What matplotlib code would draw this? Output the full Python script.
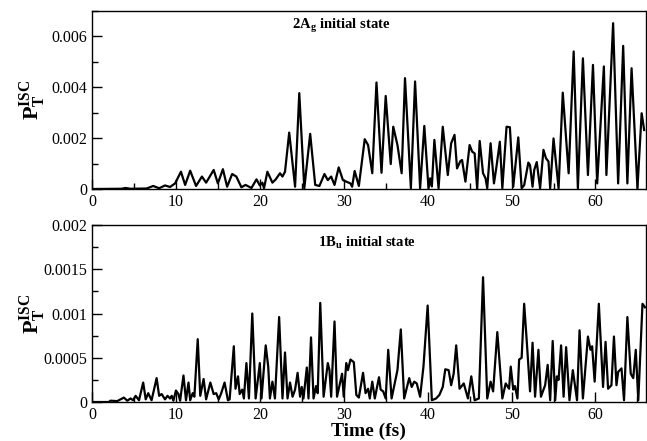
import matplotlib
matplotlib.use('Agg')
import matplotlib.pyplot as plt
from matplotlib.ticker import MultipleLocator, FixedLocator, FixedFormatter
import numpy as np

# 2Ag initial state (time in fs, P in units of 1e-3)
t_ag = [0, 3.5, 4.0, 4.6, 6.5, 7.3, 8.0, 8.7, 9.3, 9.9, 10.6, 11.1, 11.7, 12.4, 13.1, 13.6,
        14.5, 15.0, 15.6, 16.1, 16.7, 17.2, 17.8, 18.3, 19.0, 19.6, 20.0, 20.3, 20.5,
        20.9, 21.5, 21.9, 22.4, 22.7, 23.0, 23.5, 24.2, 24.7, 25.3, 26.0, 26.6, 27.1,
        27.7, 28.1, 28.5, 28.9, 29.4, 29.9, 30.3, 30.8, 31.0, 31.3, 31.8, 32.5, 32.9,
        33.4, 33.9, 34.5, 35.0, 35.6, 35.9, 36.4, 36.9, 37.3, 38.0, 38.5, 39.1, 39.6,
        40.1, 40.3, 40.5, 40.8, 41.3, 41.8, 42.4, 42.8, 43.2, 43.5, 43.9, 44.1, 44.5,
        45.0, 45.3, 45.6, 45.9, 46.2, 46.6, 46.9, 47.1, 47.5, 47.9, 48.2, 48.6, 48.9,
        49.4, 49.8, 50.2, 50.8, 51.2, 51.5, 52.0, 52.2, 52.5, 52.7, 53.0, 53.4, 53.8,
        54.1, 54.4, 54.6, 55.0, 55.6, 56.1, 56.8, 57.4, 57.9, 58.5, 59.1, 59.7, 60.2,
        60.7, 61.0, 61.3, 62.1, 62.7, 63.3, 63.8, 64.3, 65.0, 65.5, 65.8]
p_ag = [0, 0.01, 0.04, 0.01, 0.02, 0.12, 0.03, 0.14, 0.08, 0.22, 0.68, 0.16, 0.72, 0.12, 0.49, 0.25,
        0.75, 0.22, 0.78, 0.09, 0.59, 0.49, 0.07, 0.16, 0.04, 0.38, 0.14, 0.25, 0.03,
        0.68, 0.25, 0.38, 0.62, 0.49, 0.68, 2.22, 0.09, 3.77, 0.03, 2.17, 0.16, 0.12,
        0.59, 0.35, 0.49, 0.16, 0.85, 0.35, 0.29, 0.22, 0.09, 0.71, 0.12, 1.96, 1.73,
        0.62, 4.19, 0.64, 3.66, 0.98, 2.45, 1.73, 0.62, 4.36, 0.03, 4.23, 0.03, 2.48,
        0.03, 0.42, 0.1, 1.93, 0.03, 2.45, 0.55, 1.8, 2.13, 0.81, 1.1, 1.14, 0.29,
        1.73, 1.47, 1.4, 0.0, 1.89, 0.62, 0.42, 0.03, 1.8, 0.22, 0.88, 1.86, 0.03,
        2.45, 2.43, 0.09, 2.03, 0.03, 0.15, 1.04, 0.94, 0.09, 0.75, 1.06, 0.03, 1.54,
        1.21, 1.08, 0.03, 1.99, 0.03, 3.79, 0.62, 5.41, 0.03, 5.14, 0.55, 4.88, 0.22,
        3.11, 4.82, 0.55, 6.52, 0.22, 5.63, 0.22, 4.75, 0.03, 2.98, 2.32]

# 1Bu initial state (time in fs, P in units of 1e-3)
t_bu = [0, 2.0, 2.2, 3.0, 3.8, 4.2, 4.6, 4.9, 5.2, 5.6, 6.1, 6.4, 6.7, 7.1, 7.7, 8.0, 8.3,
        8.7, 9.0, 9.3, 9.5, 9.7, 10.0, 10.3, 10.5, 10.9, 11.2, 11.5, 11.7, 12.0, 12.2,
        12.6, 12.9, 13.3, 13.6, 14.1, 14.5, 14.8, 15.1, 15.4, 15.8, 16.2, 16.4, 16.9,
        17.1, 17.4, 17.6, 17.9, 18.1, 18.4, 18.7, 19.1, 19.5, 20.0, 20.2, 20.7, 21.0,
        21.2, 21.5, 21.8, 22.3, 22.7, 23.0, 23.3, 23.6, 23.9, 24.2, 24.5, 24.8, 25.0,
        25.2, 25.6, 25.8, 26.1, 26.4, 26.7, 26.9, 27.2, 27.6, 28.1, 28.3, 28.5, 28.9,
        29.2, 29.8, 30.0, 30.3, 30.5, 30.8, 31.2, 31.5, 31.8, 32.3, 32.6, 32.9, 33.1,
        33.4, 33.7, 34.2, 34.4, 34.7, 35.0, 35.3, 35.7, 36.4, 36.8, 37.2, 37.8, 38.1,
        38.4, 38.7, 39.1, 39.5, 40.0, 40.5, 41.0, 41.4, 41.8, 42.1, 42.5, 42.8, 43.1,
        43.4, 43.8, 44.3, 44.8, 45.2, 45.6, 46.1, 46.6, 47.1, 47.5, 47.8, 48.3, 48.9,
        49.3, 49.7, 49.9, 50.2, 50.4, 50.7, 50.9, 51.2, 51.5, 51.8, 52.2, 52.5, 52.8,
        53.2, 53.5, 54.0, 54.3, 54.6, 54.9, 55.2, 55.4, 55.6, 55.9, 56.2, 56.5, 56.9,
        57.3, 57.8, 58.1, 58.5, 59.1, 59.4, 59.6, 59.9, 60.4, 60.9, 61.2, 61.5, 61.9,
        62.2, 62.5, 62.7, 63.1, 63.4, 63.8, 64.2, 64.5, 64.8, 65.1, 65.6, 65.9]
p_bu = [0, 0.0, 0.015, 0.01, 0.05, 0.015, 0.04, 0.02, 0.07, 0.02, 0.22, 0.03, 0.1, 0.02, 0.27, 0.07, 0.09,
        0.03, 0.07, 0.04, 0.07, 0.015, 0.13, 0.09, 0.015, 0.3, 0.02, 0.22, 0.02, 0.1, 0.06,
        0.71, 0.07, 0.26, 0.03, 0.22, 0.09, 0.1, 0.03, 0.1, 0.22, 0.02, 0.03, 0.63,
        0.15, 0.29, 0.09, 0.14, 0.04, 0.44, 0.04, 1.0, 0.04, 0.44, 0.04, 0.64, 0.4,
        0.04, 0.23, 0.04, 0.96, 0.04, 0.56, 0.04, 0.22, 0.06, 0.14, 0.33, 0.06, 0.17,
        0.04, 0.39, 0.04, 0.73, 0.04, 0.18, 0.1, 1.12, 0.06, 0.44, 0.36, 0.06, 0.91,
        0.06, 0.32, 0.06, 0.44, 0.36, 0.48, 0.45, 0.08, 0.05, 0.33, 0.1, 0.15, 0.04,
        0.23, 0.04, 0.28, 0.14, 0.12, 0.04, 0.59, 0.04, 0.36, 0.82, 0.04, 0.27, 0.17,
        0.23, 0.21, 0.06, 0.4, 1.09, 0.02, 0.04, 0.08, 0.17, 0.37, 0.36, 0.19, 0.32,
        0.64, 0.15, 0.21, 0.04, 0.29, 0.02, 0.04, 1.41, 0.04, 0.23, 0.12, 0.79, 0.04,
        0.21, 0.15, 0.4, 0.14, 0.18, 0.04, 0.48, 0.5, 1.11, 0.7, 0.12, 0.67, 0.06,
        0.59, 0.06, 0.19, 0.42, 0.02, 0.69, 0.02, 0.29, 0.25, 0.64, 0.06, 0.62, 0.02,
        0.36, 0.02, 0.81, 0.04, 0.74, 0.59, 0.63, 0.23, 1.11, 0.17, 0.68, 0.15, 0.19,
        0.74, 0.19, 0.34, 0.38, 0.02, 0.96, 0.32, 0.27, 0.59, 0.02, 1.11, 1.07]

plt.rcParams['font.family'] = 'Liberation Serif'
plt.rcParams['mathtext.fontset'] = 'custom'
plt.rcParams['mathtext.rm'] = 'Liberation Serif'
plt.rcParams['mathtext.bf'] = 'Liberation Serif:bold'

fig = plt.figure(figsize=(6.47, 4.41), dpi=100)
ax1 = fig.add_axes([0.1422, 0.5714, 0.856, 0.4036])
ax2 = fig.add_axes([0.1422, 0.0884, 0.856, 0.4014])

ax1.plot(t_ag, np.array(p_ag) * 1e-3, color='black', lw=1.6, solid_joinstyle='round')
ax2.plot(t_bu, np.array(p_bu) * 1e-3, color='black', lw=1.6, solid_joinstyle='round')

ylab = r'$\mathbf{P}_{\mathbf{T}}^{\mathbf{ISC}}$'
for ax in (ax1, ax2):
    ax.set_xlim(0, 66)
    ax.xaxis.set_major_locator(MultipleLocator(10))
    ax.xaxis.set_minor_locator(MultipleLocator(5))
    ax.tick_params(which='both', direction='in', top=False, right=False, labelsize=11.5)
    ax.tick_params(which='major', length=7, width=1)
    ax.tick_params(which='minor', length=4, width=1)
    for s in ax.spines.values():
        s.set_linewidth(1)
    ax.set_ylabel(ylab, fontsize=16)

ax1.set_ylim(0, 0.007)
ax1.yaxis.set_major_locator(FixedLocator([0, 0.002, 0.004, 0.006]))
ax1.yaxis.set_major_formatter(FixedFormatter(['0', '0.002', '0.004', '0.006']))
ax1.yaxis.set_minor_locator(MultipleLocator(0.001))
ax1.yaxis.set_label_coords(-0.08, 0.5)

ax2.set_ylim(0, 0.002)
ax2.yaxis.set_major_locator(FixedLocator([0, 0.0005, 0.001, 0.0015, 0.002]))
ax2.yaxis.set_major_formatter(FixedFormatter(['0', '0.0005', '0.001', '0.0015', '0.002']))
ax2.yaxis.set_minor_locator(MultipleLocator(0.00025))
ax2.yaxis.set_label_coords(-0.08, 0.5)

ax1.text(0.45, 0.92, r'2A$_{\mathbf{g}}$ initial state', transform=ax1.transAxes,
         ha='center', va='center', fontsize=10.5, fontweight='bold')
ax2.text(0.496, 0.90, r'1B$_{\mathbf{u}}$ initial state', transform=ax2.transAxes,
         ha='center', va='center', fontsize=10.5, fontweight='bold')

ax2.set_xlabel('Time (fs)', fontsize=14, fontweight='bold', labelpad=0)

fig.savefig('out.png', dpi=100)
